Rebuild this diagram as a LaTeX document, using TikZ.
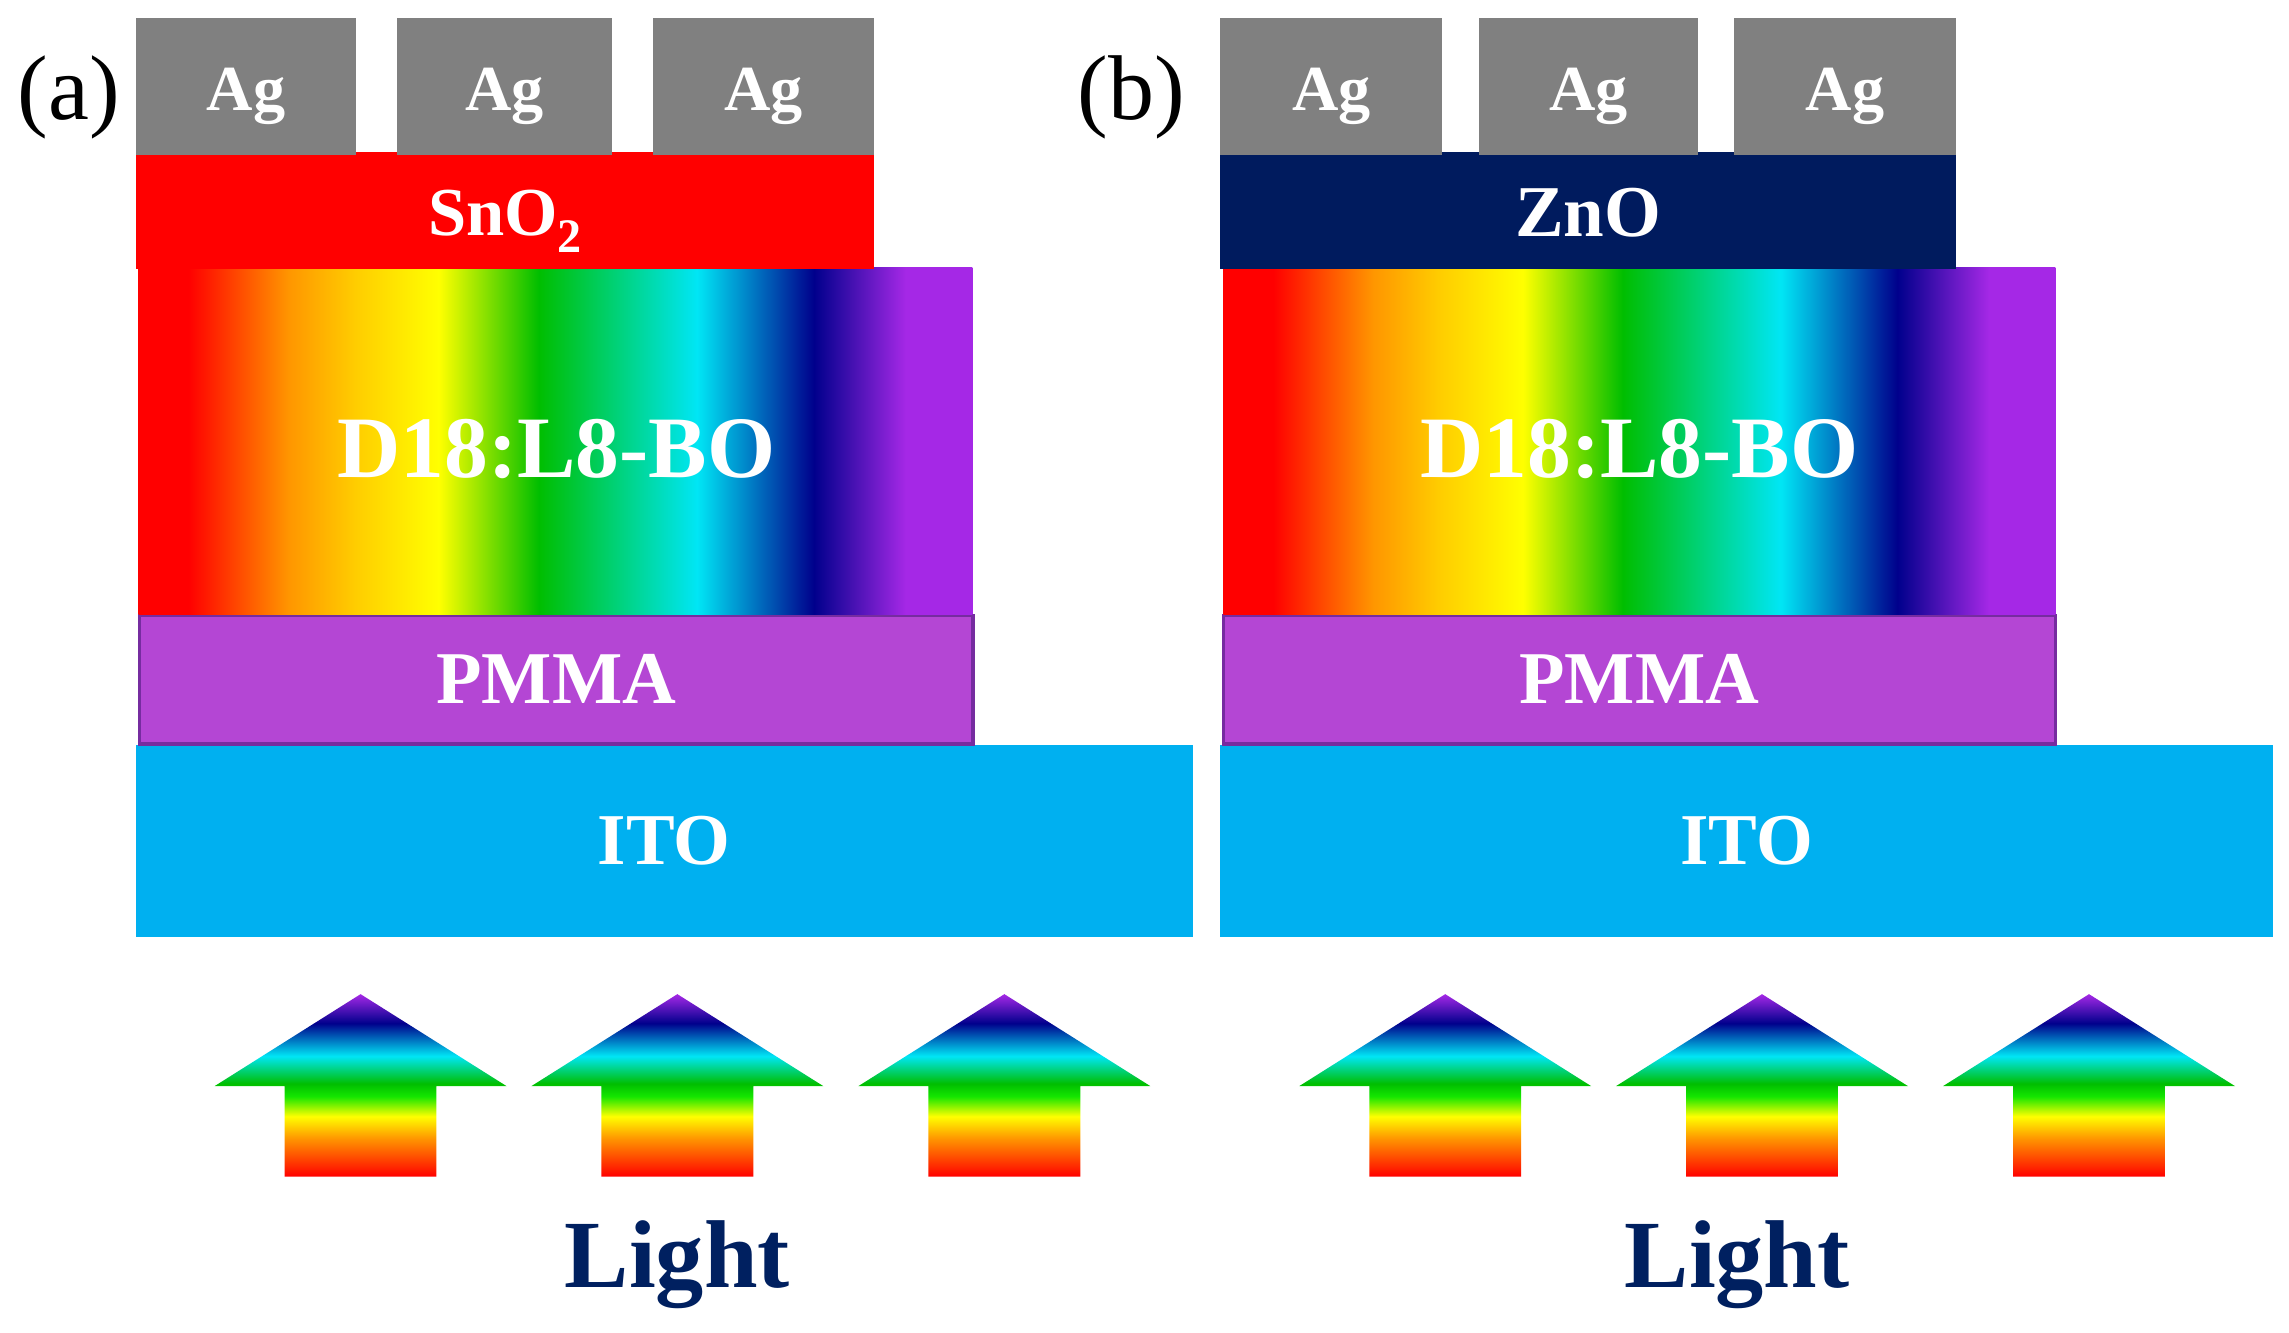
\documentclass[tikz,border=0pt]{standalone}
\usepackage{fontspec}
\setmainfont{Liberation Serif}
\definecolor{cRed}{RGB}{255,0,0}
\definecolor{cOrange}{RGB}{255,150,0}
\definecolor{cGold}{RGB}{255,205,0}
\definecolor{cYellow}{RGB}{255,255,0}
\definecolor{cLGreen}{RGB}{20,230,0}
\definecolor{cGreen}{RGB}{0,190,0}
\definecolor{cCyan}{RGB}{0,230,245}
\definecolor{cNavy}{RGB}{0,0,140}
\definecolor{cPurple}{RGB}{165,40,230}
\definecolor{agGray}{RGB}{128,128,128}
\definecolor{znoBlue}{RGB}{0,27,94}
\definecolor{pmmaFill}{RGB}{180,70,212}
\definecolor{pmmaLine}{RGB}{118,44,160}
\definecolor{itoBlue}{RGB}{0,176,240}
\definecolor{lightBlue}{RGB}{0,32,96}
\pgfdeclarehorizontalshading{rainbowH}{100bp}{color(0bp)=(cRed); color(28bp)=(cRed); color(34bp)=(cOrange); color(38bp)=(cGold); color(43bp)=(cYellow); color(49bp)=(cGreen); color(58.5bp)=(cCyan); color(65.5bp)=(cNavy); color(71bp)=(cPurple); color(100bp)=(cPurple)}
\pgfdeclareverticalshading{rainbowV}{100bp}{color(0bp)=(cRed); color(25bp)=(cRed); color(35.5bp)=(cOrange); color(41.5bp)=(cYellow); color(47bp)=(cLGreen); color(50.5bp)=(cGreen); color(58bp)=(cCyan); color(67bp)=(cNavy); color(75bp)=(cPurple); color(100bp)=(cPurple)}
\tikzset{
  layer/.style={rectangle, inner sep=0pt, outer sep=0pt, draw=none},
  lbl/.style={text=white, font=\bfseries\fontsize{#1}{#1}\selectfont, anchor=base, inner sep=0pt},
  panel/.style={font=\fontsize{63}{63}\selectfont, anchor=base, inner sep=0pt},
  lighttext/.style={text=lightBlue, font=\bfseries\fontsize{66}{66}\selectfont, anchor=base, inner sep=0pt},
}
\newcommand\lightarr[1]{\path[shading=rainbowV] (#1,681) -- (#1+100,744) -- (#1+52,744) -- (#1+52,806) -- (#1-52,806) -- (#1-52,744) -- (#1-100,744) -- cycle;}
\begin{document}
\begin{tikzpicture}[x=1pt,y=-1pt]
\useasboundingbox (0,0) rectangle (1568,913);
% ---------- panel (a) ----------
\node[layer, fill=itoBlue, minimum width=724pt, minimum height=132pt] (itoA) at (455,576) {};
\node[layer, fill=pmmaFill, draw=pmmaLine, line width=2.5pt, minimum width=571pt, minimum height=88pt] (pmmaA) at (381,465.5) {};
\node[layer, shading=rainbowH, minimum width=571pt, minimum height=238pt] (actA) at (380.5,302) {};
\node[layer, fill=cRed, minimum width=506pt, minimum height=80pt] (sno) at (346,144) {};
\node[layer, fill=agGray, minimum width=151pt, minimum height=94pt] (agA1) at (168.5,59) {};
\node[layer, fill=agGray, minimum width=147pt, minimum height=94pt] (agA2) at (345.5,59) {};
\node[layer, fill=agGray, minimum width=152pt, minimum height=94pt] (agA3) at (523,59) {};
\node[lbl=44] (tAgA1) at (168.5,76) {Ag};
\node[lbl=44] (tAgA2) at (345.5,76) {Ag};
\node[lbl=44] (tAgA3) at (523,76) {Ag};
\node[lbl=47] (tSno) at (346,161) {SnO{\fontsize{33}{33}\selectfont\raisebox{-12pt}{2}}};
\node[lbl=60] (tActA) at (381,327) {D18:L8-BO};
\node[lbl=51] (tPmmaA) at (381,482) {PMMA};
\node[lbl=50] (tItoA) at (455,592) {ITO};
\node[panel] (pa) at (47,82) {(a)};
\lightarr{247}
\lightarr{464}
\lightarr{688}
\node[lighttext] (lightA) at (464,882) {Light};
% ---------- panel (b) ----------
\node[layer, fill=itoBlue, minimum width=721pt, minimum height=132pt] (itoB) at (1196.5,576) {};
\node[layer, fill=pmmaFill, draw=pmmaLine, line width=2.5pt, minimum width=570pt, minimum height=88pt] (pmmaB) at (1123,465.5) {};
\node[layer, shading=rainbowH, minimum width=570pt, minimum height=238pt] (actB) at (1123,302) {};
\node[layer, fill=znoBlue, minimum width=504pt, minimum height=80pt] (zno) at (1088,144) {};
\node[layer, fill=agGray, minimum width=152pt, minimum height=94pt] (agB1) at (912,59) {};
\node[layer, fill=agGray, minimum width=150pt, minimum height=94pt] (agB2) at (1088,59) {};
\node[layer, fill=agGray, minimum width=152pt, minimum height=94pt] (agB3) at (1264,59) {};
\node[lbl=44] (tAgB1) at (912,76) {Ag};
\node[lbl=44] (tAgB2) at (1088,76) {Ag};
\node[lbl=44] (tAgB3) at (1264,76) {Ag};
\node[lbl=50] (tZno) at (1088,162) {ZnO};
\node[lbl=60] (tActB) at (1123,327) {D18:L8-BO};
\node[lbl=51] (tPmmaB) at (1123,482) {PMMA};
\node[lbl=50] (tItoB) at (1196.5,592) {ITO};
\node[panel] (pb) at (775,82) {(b)};
\lightarr{990}
\lightarr{1207}
\lightarr{1431}
\node[lighttext] (lightB) at (1190,882) {Light};
\end{tikzpicture}
\end{document}
